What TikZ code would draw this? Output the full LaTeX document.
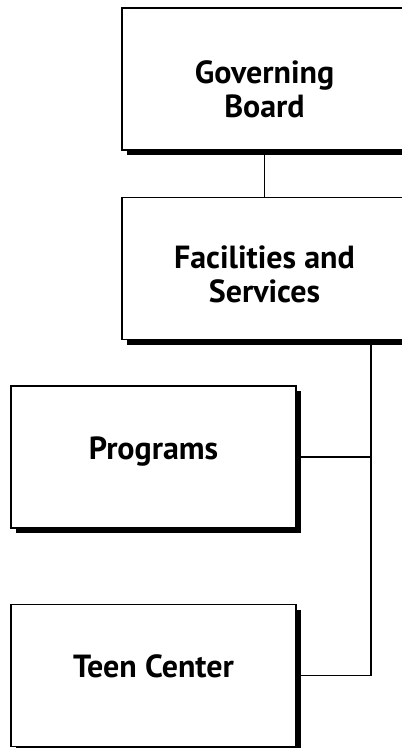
\documentclass[tikz,border=0pt]{standalone}
\usepackage{fontspec}
\setmainfont{PT Sans}
\usetikzlibrary{shadows}

\tikzset{
    orgbox/.style={draw, line width=1.2pt, fill=white, minimum width=285pt, minimum height=142pt,
        drop shadow={opacity=1, fill=black, shadow xshift=5pt, shadow yshift=-5pt}},
    orgtext/.style={font=\bfseries\fontsize{32}{34}\selectfont, align=center},
    link/.style={line width=1.3pt}
}

\begin{document}
\begin{tikzpicture}[x=1pt, y=-1pt]
                    \useasboundingbox (0,0) rectangle (402,748);
                    \clip (0,0) rectangle (402,748);

                    \node[orgbox, label={[orgtext, yshift=-10pt]center:Governing\\Board}] (board) at (264.5,79) {};
                    \node[orgbox, label={[orgtext, yshift=-6pt]center:Facilities and\\Services}] (facil) at (264.5,268.5) {};
                    \node[orgbox, label={[orgtext, yshift=5pt]center:Programs}] (progs) at (153.5,457) {};
                    \node[orgbox, label={[orgtext, yshift=9pt]center:Teen Center}] (teen) at (153.5,675.5) {};

                    \coordinate (trunk) at (371,340);

                    \draw[link] (board.south) -- (facil.north);
                    \draw[link] (facil.south -| trunk) -- (trunk |- teen.east) -- (teen.east);
                    \draw[link] (progs.east) -- (progs.east -| trunk);
                \end{tikzpicture}
\end{document}
